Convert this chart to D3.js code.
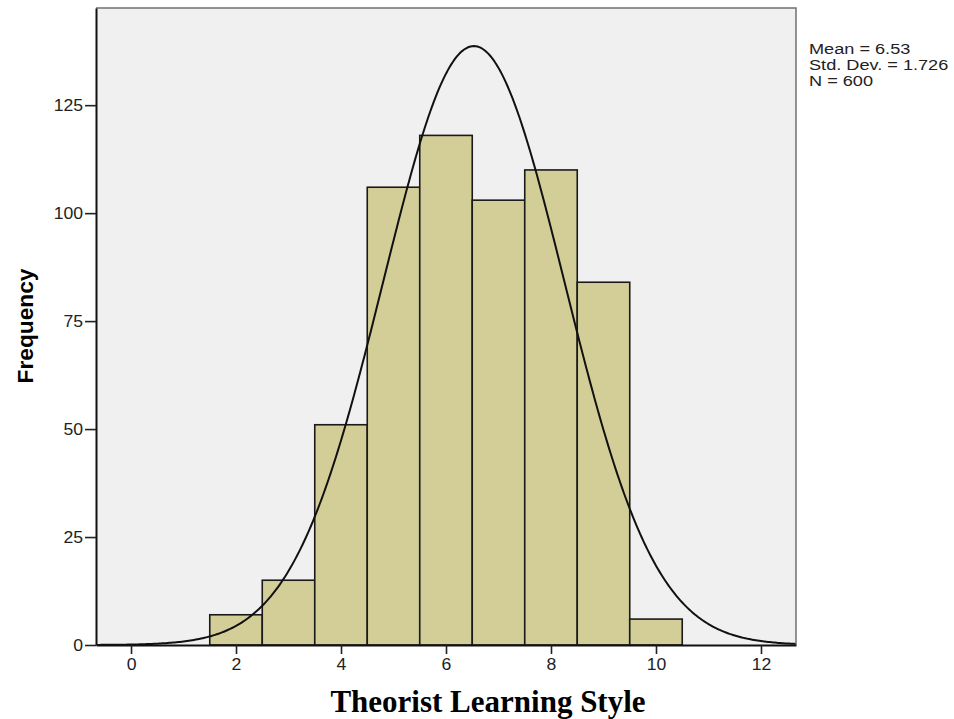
<!DOCTYPE html>
<html>
<head>
<meta charset="utf-8">
<script src="https://cdn.jsdelivr.net/npm/d3@7"></script>
<style>
  body { margin: 0; background: #fff; }
  svg { display: block; }
</style>
</head>
<body>
<div id="chart"></div>
<script>
// histogram bins (midpoints) and counts
const binCenters = [2, 3, 4, 5, 6, 7, 8, 9, 10];
const counts = [7, 15, 51, 106, 118, 103, 110, 84, 6];
const xTicks = [0, 2, 4, 6, 8, 10, 12];
const yTicks = [0, 25, 50, 75, 100, 125];
// fitted normal, as printed on the chart
const stats = { mean: 6.53, sd: 1.726, n: 600 };
const statLines = ["Mean = 6.53", "Std. Dev. = 1.726", "N = 600"];

const width = 954, height = 719;
const plot = { left: 96, top: 8, right: 796, bottom: 645 };

const svg = d3.select('#chart').append('svg')
    .attr('width', width)
    .attr('height', height);

const x = d3.scaleLinear().domain([-0.667, 12.667]).range([plot.left, plot.right]);
const y = d3.scaleLinear().domain([0, 147.5]).range([plot.bottom, plot.top]);

// plot background
svg.append('rect')
    .attr('x', plot.left).attr('y', plot.top)
    .attr('width', plot.right - plot.left).attr('height', plot.bottom - plot.top)
    .attr('fill', '#f0f0f0');

svg.append('clipPath').attr('id', 'clip')
  .append('rect')
    .attr('x', plot.left).attr('y', plot.top)
    .attr('width', plot.right - plot.left).attr('height', plot.bottom - plot.top);

// bars
svg.append('g').selectAll('rect')
    .data(binCenters)
    .join('rect')
    .attr('x', d => x(d - 0.5))
    .attr('y', (d, i) => y(counts[i]))
    .attr('width', d => x(d + 0.5) - x(d - 0.5))
    .attr('height', (d, i) => y(0) - y(counts[i]))
    .attr('fill', '#d3ce98')
    .attr('stroke', '#1a1a1a')
    .attr('stroke-width', 1.6);

// normal curve scaled to counts (bin width 1)
const pdf = v => stats.n / (stats.sd * Math.sqrt(2 * Math.PI)) *
    Math.exp(-0.5 * Math.pow((v - stats.mean) / stats.sd, 2));
const curvePts = d3.range(0, 401).map(i => {
    const v = x.domain()[0] + (x.domain()[1] - x.domain()[0]) * i / 400;
    return [v, pdf(v)];
});
svg.append('path')
    .attr('clip-path', 'url(#clip)')
    .attr('d', d3.line().x(d => x(d[0])).y(d => y(d[1]))(curvePts))
    .attr('fill', 'none')
    .attr('stroke', '#111')
    .attr('stroke-width', 2);

// frame: top and right grey
svg.append('path')
    .attr('d', `M${plot.left},${plot.top}H${plot.right}V${plot.bottom}`)
    .attr('fill', 'none')
    .attr('stroke', '#707070')
    .attr('stroke-width', 1.5);

// axes
const xAxis = svg.append('g')
    .attr('transform', `translate(0,${plot.bottom})`)
    .call(d3.axisBottom(x).tickValues(xTicks).tickSize(9).tickSizeOuter(0).tickPadding(5));
const yAxis = svg.append('g')
    .attr('transform', `translate(${plot.left},0)`)
    .call(d3.axisLeft(y).tickValues(yTicks).tickSize(11).tickSizeOuter(0).tickPadding(2));

[xAxis, yAxis].forEach(g => {
    g.select('.domain').attr('stroke', '#111').attr('stroke-width', 2);
    g.selectAll('.tick line').attr('stroke', '#222').attr('stroke-width', 1.6);
    g.selectAll('.tick text')
        .attr('fill', '#222')
        .style('font-family', 'Arial, "Liberation Sans", sans-serif')
        .style('font-size', '16px');
});
yAxis.selectAll('.tick text').attr('dy', '0.36em');

// the source chart uses slightly wide sans text; stretch horizontally a bit
svg.selectAll('.tick text').each(function () {
    const len = this.getComputedTextLength();
    d3.select(this).attr('textLength', len * 1.1).attr('lengthAdjust', 'spacingAndGlyphs');
});

// statistics box
svg.append('g').selectAll('text')
    .data(statLines)
    .join('text')
    .attr('x', 809)
    .attr('y', (d, i) => 54 + i * 16)
    .attr('fill', '#222')
    .style('font-family', 'Arial, "Liberation Sans", sans-serif')
    .style('font-size', '15.5px')
    .text(d => d)
    .each(function () {
        const len = this.getComputedTextLength();
        d3.select(this).attr('textLength', len * 1.17).attr('lengthAdjust', 'spacingAndGlyphs');
    });

// axis titles
svg.append('text')
    .attr('transform', 'translate(33,326) rotate(-90)')
    .attr('text-anchor', 'middle')
    .attr('textLength', 115)
    .attr('lengthAdjust', 'spacingAndGlyphs')
    .style('font-family', 'Arial, "Liberation Sans", sans-serif')
    .style('font-weight', 'bold')
    .style('font-size', '22px')
    .text('Frequency');

svg.append('text')
    .attr('x', 488)
    .attr('y', 712)
    .attr('text-anchor', 'middle')
    .style('font-family', '"Times New Roman", "Liberation Serif", serif')
    .style('font-weight', 'bold')
    .style('font-size', '31px')
    .text('Theorist Learning Style');
</script>
</body>
</html>
